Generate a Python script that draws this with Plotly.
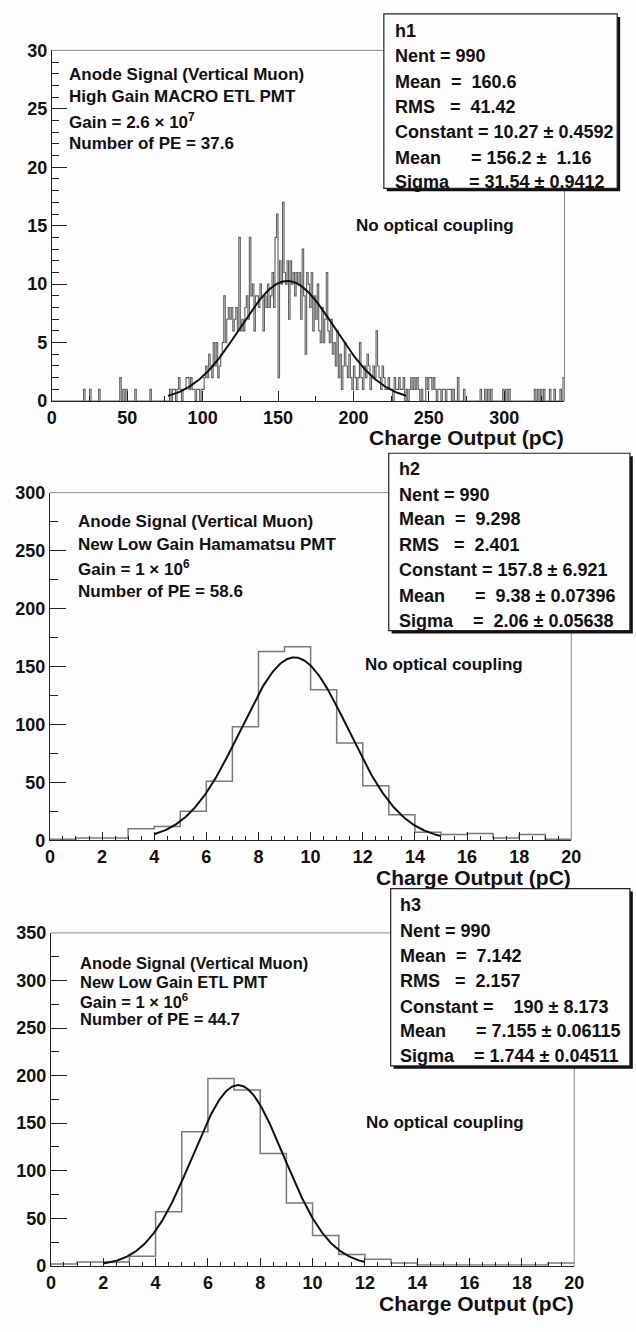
import numpy as np
import plotly.graph_objects as go

W, H = 636, 1332

# ---------------- data ----------------
# Panel 1: h1, 340 bins of 1 pC from 0 to 340
h1_xmin, h1_binw = 0.0, 1.0
h1_counts = [
    0,0,0,0,0,0,0,0,0,0, 0,0,0,0,0,0,0,0,0,0,
    0,1,0,0,0,1,0,0,0,0, 0,1,0,0,0,0,0,0,0,0,
    0,0,0,0,0,2,0,1,0,1, 0,0,0,0,0,1,0,0,0,0,
    0,0,0,0,0,1,0,0,0,0, 0,0,0,0,0,0,0,0,1,0,
    1,1,0,1,2,1,0,1,1,2, 2,1,2,1,1,0,1,1,0,1,
    1,2,3,2,4,3,2,5,3,5, 2,3,4,5,9,5,7,8,7,8,
    6,7,8,6,14,6,7,6,8,9, 7,14,9,10,6,9,9,8,10,9,
    6,9,8,10,8,9,11,8,14,16, 2,12,10,17,11,10,12,7,12,10,
    11,9,11,10,11,7,13,9,4,11, 10,8,11,6,9,7,10,6,5,8,
    5,7,11,6,5,7,4,5,3,6, 2,4,1,3,5,3,2,4,2,1,
    3,2,1,2,5,2,1,3,2,4, 3,1,2,3,2,6,3,2,1,3,
    2,1,1,2,1,1,0,2,1,1, 2,1,1,2,0,1,0,1,2,1,
    2,1,2,1,0,1,0,0,2,1, 2,2,1,2,1,0,1,1,0,1,
    1,0,1,1,1,0,1,0,0,2, 0,0,0,1,0,0,0,0,0,0,
    0,0,0,0,1,0,0,1,0,1, 0,1,0,0,0,0,0,0,0,1,
    0,1,0,1,0,0,0,0,0,0, 0,0,0,0,0,0,0,0,0,0,
    1,0,1,0,1,0,1,0,0,0, 1,0,0,1,0,0,0,1,0,2,
]
h1_fit = dict(const=10.27, mean=156.2, sigma=31.54, lo=77.0, hi=235.0)

# Panel 2: h2, 20 bins of 1 pC from 0 to 20
h2_xmin, h2_binw = 0.0, 1.0
h2_counts = [1, 2, 2, 10, 12, 25, 51, 98, 163, 167,
             130, 84, 47, 22, 7, 5, 6, 2, 5, 1]
h2_fit = dict(const=157.8, mean=9.38, sigma=2.06, lo=4.0, hi=15.0)

# Panel 3: h3, 20 bins of 1 pC from 0 to 20
h3_xmin, h3_binw = 0.0, 1.0
h3_counts = [2, 4, 4, 10, 57, 141, 197, 185, 118, 66,
             32, 12, 7, 3, 1, 1, 1, 1, 1, 3]
h3_fit = dict(const=190.0, mean=7.155, sigma=1.744, lo=2.0, hi=12.0)

label_lines = [
    ["Anode Signal (Vertical Muon)", "High Gain MACRO ETL PMT",
     "Gain = 2.6 \u00d7 10<sup>7</sup>", "Number of PE = 37.6"],
    ["Anode Signal (Vertical Muon)", "New Low Gain Hamamatsu PMT",
     "Gain = 1 \u00d7 10<sup>6</sup>", "Number of PE = 58.6"],
    ["Anode Signal (Vertical Muon)", "New Low Gain ETL PMT",
     "Gain = 1 \u00d7 10<sup>6</sup>", "Number of PE = 44.7"],
]
stats_lines = [
    ["h1", "Nent = 990", "Mean  =  160.6", "RMS   =  41.42",
     "Constant = 10.27 \u00b1 0.4592", "Mean      = 156.2 \u00b1  1.16",
     "Sigma    = 31.54 \u00b1 0.9412"],
    ["h2", "Nent = 990", "Mean  =  9.298", "RMS   =  2.401",
     "Constant = 157.8 \u00b1 6.921", "Mean      =  9.38 \u00b1 0.07396",
     "Sigma    =  2.06 \u00b1 0.05638"],
    ["h3", "Nent = 990", "Mean  =  7.142", "RMS   =  2.157",
     "Constant =    190 \u00b1 8.173", "Mean      = 7.155 \u00b1 0.06115",
     "Sigma    = 1.744 \u00b1 0.04511"],
]
x_title = "Charge Output (pC)"
note_text = "No optical coupling"

# ---------------- layout (pixels) ----------------
panels = [
    dict(x0=48, x1=573, ytop=41, ybot=397, xr=[0, 340], yr=[0, 30],
         xd=50, xm=25, yd=5, ym=1, ylen=15, ymlen=7, xlen=10, xmlen=5,
         text_x=63, text_y=[65, 88, 113, 136], lab_size=17,
         box=(388, 4, 627, 181), stat_x=397, stat_y=[21, 47, 73, 98, 124, 150, 175],
         note=(357, 219), title_y=434),
    dict(x0=46, x1=580, ytop=490, ybot=843, xr=[0, 20], yr=[0, 300],
         xd=2, xm=0.5, yd=50, ym=25, ylen=16, ymlen=8, xlen=8, xmlen=4,
         text_x=73, text_y=[519, 543, 566, 590], lab_size=17,
         box=(393, 450, 640, 630), stat_x=401, stat_y=[466, 492, 517, 543, 569, 595, 620],
         note=(367, 664), title_y=881),
    dict(x0=47, x1=583, ytop=937, ybot=1275, xr=[0, 20], yr=[0, 350],
         xd=2, xm=0.5, yd=50, ym=25, ylen=16, ymlen=8, xlen=8, xmlen=4,
         text_x=75, text_y=[968, 987, 1006, 1024], lab_size=16.5,
         box=(395, 892, 640, 1072), stat_x=403, stat_y=[909, 935, 960, 986, 1012, 1037, 1062],
         note=(368, 1129), title_y=1313),
]

def px(x):
    return x / W

def py(y):
    return 1 - y / H

FONT = "Liberation Sans, Arial, Helvetica, sans-serif"
hist_colors = ["#606060", "#7a7a7a", "#7a7a7a"]
hist_widths = [1.1, 1.5, 1.5]

fig = go.Figure()
hists = [(h1_xmin, h1_binw, h1_counts, h1_fit),
         (h2_xmin, h2_binw, h2_counts, h2_fit),
         (h3_xmin, h3_binw, h3_counts, h3_fit)]

annotations = []
shapes = []
for i, (p, (xmin, bw, counts, fit)) in enumerate(zip(panels, hists)):
    n = i + 1
    xa = "x" if n == 1 else f"x{n}"
    ya = "y" if n == 1 else f"y{n}"
    counts = np.asarray(counts, dtype=float)
    edges = xmin + bw * np.arange(len(counts) + 1)
    xs = np.concatenate([[edges[0]], edges])
    ys = np.concatenate([[0.0], counts, [counts[-1]]])
    fig.add_trace(go.Scatter(x=xs, y=ys, mode="lines", line_shape="hv",
                             line=dict(color=hist_colors[i], width=hist_widths[i]),
                             xaxis=xa, yaxis=ya, hoverinfo="skip"))
    fx = np.linspace(fit["lo"], fit["hi"], 300)
    fy = fit["const"] * np.exp(-0.5 * ((fx - fit["mean"]) / fit["sigma"]) ** 2)
    fig.add_trace(go.Scatter(x=fx, y=fy, mode="lines",
                             line=dict(color="#111111", width=2),
                             xaxis=xa, yaxis=ya, hoverinfo="skip"))

    axkey_x = "xaxis" if n == 1 else f"xaxis{n}"
    axkey_y = "yaxis" if n == 1 else f"yaxis{n}"
    fig.update_layout(**{
        axkey_x: dict(domain=[px(p["x0"]), px(p["x1"])], range=p["xr"],
                      anchor=ya, showgrid=False, zeroline=False,
                      showline=True, linecolor="#222", linewidth=1.2,
                      ticks="inside", ticklen=p["xlen"], tickcolor="#222",
                      tickwidth=1, dtick=p["xd"], tick0=0,
                      minor=dict(ticks="inside", ticklen=p["xmlen"], dtick=p["xm"],
                                 tickcolor="#222", tickwidth=1, showgrid=False),
                      tickfont=dict(family=FONT, size=18, color="#111", weight="bold"),
                      fixedrange=True),
        axkey_y: dict(domain=[py(p["ybot"]), py(p["ytop"])], range=p["yr"],
                      anchor=xa, showgrid=False, zeroline=False,
                      showline=True, linecolor="#222", linewidth=1.2,
                      ticks="inside", ticklen=p["ylen"], tickcolor="#222",
                      tickwidth=1, dtick=p["yd"], tick0=0,
                      minor=dict(ticks="inside", ticklen=p["ymlen"], dtick=p["ym"],
                                 tickcolor="#222", tickwidth=1, showgrid=False),
                      tickfont=dict(family=FONT, size=18, color="#111", weight="bold"),
                      fixedrange=True),
    })
    # frame top and right (thin grey)
    shapes.append(dict(type="line", xref=f"{xa} domain", yref=f"{ya} domain",
                       x0=0, x1=1, y0=1, y1=1, line=dict(color="#888", width=1)))
    shapes.append(dict(type="line", xref=f"{xa} domain", yref=f"{ya} domain",
                       x0=1, x1=1, y0=0, y1=1, line=dict(color="#888", width=1)))

    # descriptive labels
    for t, yy in zip(label_lines[i], p["text_y"]):
        annotations.append(dict(text=t, x=px(p["text_x"]), y=py(yy), xref="paper",
                                yref="paper", xanchor="left", yanchor="middle",
                                showarrow=False,
                                font=dict(family=FONT, size=p["lab_size"], color="#111",
                                          weight="bold")))
    # note
    annotations.append(dict(text=note_text, x=px(p["note"][0]), y=py(p["note"][1]),
                            xref="paper", yref="paper", xanchor="left", yanchor="middle",
                            showarrow=False,
                            font=dict(family=FONT, size=17, color="#111", weight="bold")))
    # x title
    annotations.append(dict(text=x_title, x=px(p["x1"] + 2), y=py(p["title_y"]),
                            xref="paper", yref="paper", xanchor="right", yanchor="middle",
                            showarrow=False,
                            font=dict(family=FONT, size=21, color="#111", weight="bold")))
    # stats box with shadow
    bx0, by0, bx1, by1 = p["box"]
    shapes.append(dict(type="rect", xref="paper", yref="paper",
                       x0=px(bx0 + 3), x1=px(bx1 + 3), y0=py(by1 + 3), y1=py(by0 + 3),
                       fillcolor="#111", line=dict(width=0), layer="above"))
    shapes.append(dict(type="rect", xref="paper", yref="paper",
                       x0=px(bx0), x1=px(bx1), y0=py(by1), y1=py(by0),
                       fillcolor="#fdfdfd", line=dict(color="#222", width=1.2), layer="above"))
    for t, yy in zip(stats_lines[i], p["stat_y"]):
        annotations.append(dict(text=t.replace(" ", "\u00a0"), x=px(p["stat_x"]), y=py(yy),
                                xref="paper", yref="paper", xanchor="left", yanchor="middle",
                                showarrow=False,
                                font=dict(family=FONT, size=18, color="#111", weight="bold")))

fig.update_layout(width=W, height=H, margin=dict(l=0, r=0, t=0, b=0),
                  paper_bgcolor="#fdfdfd", plot_bgcolor="#fdfdfd",
                  showlegend=False, annotations=annotations, shapes=shapes)

fig.write_html("out.html",
               config={"displayModeBar": False},
               post_script="document.body.style.margin='0';"
                           "document.body.style.overflow='hidden';")
